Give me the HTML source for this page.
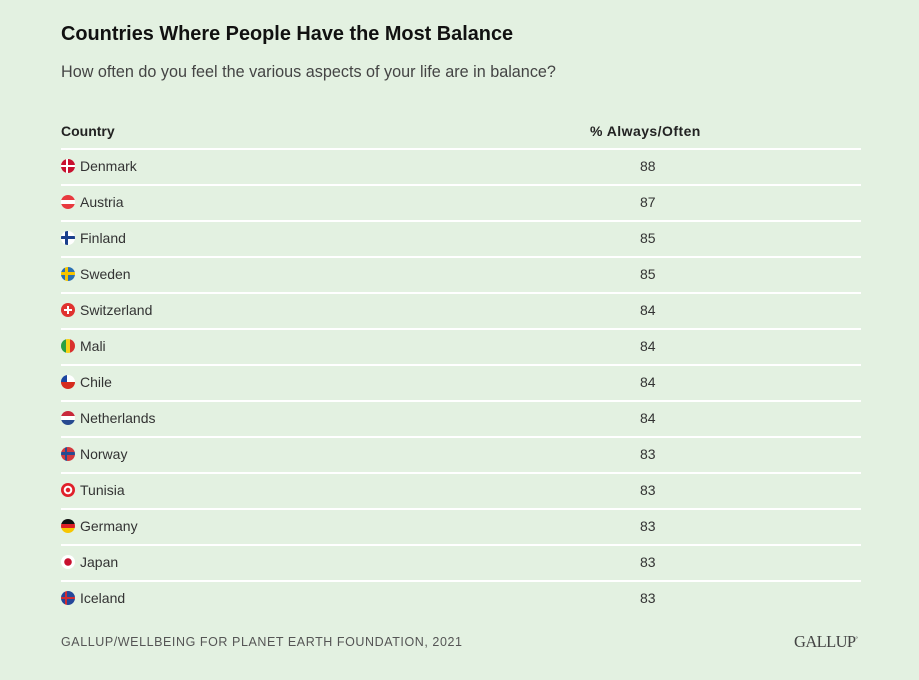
<!DOCTYPE html>
<html><head><meta charset="utf-8"><style>
body{margin:0;width:919px;height:680px;background:#e3f1e1;font-family:"Liberation Sans",sans-serif;position:relative;overflow:hidden;color:#333}
.a{position:absolute;white-space:nowrap}
.t{left:61px;top:23px;font-size:19.9px;font-weight:bold;color:#111}
.s{left:61px;top:63px;font-size:16.2px;color:#444}
.h{top:123px;font-size:14px;font-weight:bold;color:#222}
.line{position:absolute;left:61px;width:800px;height:2px;background:#fff}
.r{position:absolute;left:61px;width:800px;height:36px;font-size:14px;color:#333}
.r .n{position:absolute;left:19px;top:10px}
.r .v{position:absolute;left:579px;top:10px}
.f{position:absolute;left:0;top:11px;width:14px;height:14px;border-radius:50%;overflow:hidden}
.foot{left:61px;top:635px;font-size:12.5px;letter-spacing:0.57px;color:#555}
.g{left:794px;top:632px;font-family:"Liberation Serif",serif;font-size:16.5px;color:#444;letter-spacing:-0.6px}
</style></head><body>
<div class="a t">Countries Where People Have the Most Balance</div>
<div class="a s">How often do you feel the various aspects of your life are in balance?</div>
<div class="a h" style="left:61px">Country</div>
<div class="a h" style="left:590px;font-size:14px;letter-spacing:0.45px">% Always/Often</div>
<div class="line" style="top:148px"></div>
<div class="r" style="top:148px"><div class="f" style="background:linear-gradient(90deg,transparent 5px,#fff 5px,#fff 7px,transparent 7px),linear-gradient(#c8102e 6px,#fff 6px,#fff 8px,#c8102e 8px)"></div><span class="n">Denmark</span><span class="v">88</span></div>
<div class="line" style="top:184px"></div>
<div class="r" style="top:184px"><div class="f" style="background:linear-gradient(#e8393f 5px,#fff 5px,#fff 9px,#e8393f 9px)"></div><span class="n">Austria</span><span class="v">87</span></div>
<div class="line" style="top:220px"></div>
<div class="r" style="top:220px"><div class="f" style="background:linear-gradient(90deg,transparent 4px,#1a3f8c 4px,#1a3f8c 7px,transparent 7px),linear-gradient(#fff 5px,#1a3f8c 5px,#1a3f8c 8px,#fff 8px)"></div><span class="n">Finland</span><span class="v">85</span></div>
<div class="line" style="top:256px"></div>
<div class="r" style="top:256px"><div class="f" style="background:linear-gradient(90deg,transparent 4px,#f6c400 4px,#f6c400 7px,transparent 7px),linear-gradient(#2a6fb3 5px,#f6c400 5px,#f6c400 8px,#2a6fb3 8px)"></div><span class="n">Sweden</span><span class="v">85</span></div>
<div class="line" style="top:292px"></div>
<div class="r" style="top:292px"><div class="f" style="background:linear-gradient(90deg,transparent 6px,#fff 6px,#fff 8px,transparent 8px) 0 3px/14px 8px no-repeat,linear-gradient(transparent 6px,#fff 6px,#fff 8px,transparent 8px) 3px 0/8px 14px no-repeat,#e0322f"></div><span class="n">Switzerland</span><span class="v">84</span></div>
<div class="line" style="top:328px"></div>
<div class="r" style="top:328px"><div class="f" style="background:linear-gradient(90deg,#2aa043 5px,#f7d117 5px,#f7d117 9px,#d9302d 9px)"></div><span class="n">Mali</span><span class="v">84</span></div>
<div class="line" style="top:364px"></div>
<div class="r" style="top:364px"><div class="f" style="background:linear-gradient(90deg,#1a45a0 6px,transparent 6px) 0 0/14px 7px no-repeat,linear-gradient(#fff 7px,#d52b1e 7px)"></div><span class="n">Chile</span><span class="v">84</span></div>
<div class="line" style="top:400px"></div>
<div class="r" style="top:400px"><div class="f" style="background:linear-gradient(#c8283a 5px,#fff 5px,#fff 9px,#274a90 9px)"></div><span class="n">Netherlands</span><span class="v">84</span></div>
<div class="line" style="top:436px"></div>
<div class="r" style="top:436px"><div class="f" style="background:linear-gradient(90deg,transparent 4px,#274a90 4px,#274a90 6px,transparent 6px),linear-gradient(#d23a3f 5px,#274a90 5px,#274a90 8px,#d23a3f 8px)"></div><span class="n">Norway</span><span class="v">83</span></div>
<div class="line" style="top:472px"></div>
<div class="r" style="top:472px"><div class="f" style="background:radial-gradient(circle,#e0202a 2px,#fff 2.5px,#fff 4px,#e0202a 4.5px)"></div><span class="n">Tunisia</span><span class="v">83</span></div>
<div class="line" style="top:508px"></div>
<div class="r" style="top:508px"><div class="f" style="background:linear-gradient(#111 5px,#dd1f26 5px,#dd1f26 9px,#f7c600 9px)"></div><span class="n">Germany</span><span class="v">83</span></div>
<div class="line" style="top:544px"></div>
<div class="r" style="top:544px"><div class="f" style="background:radial-gradient(circle,#c8102e 3.5px,#fff 4px)"></div><span class="n">Japan</span><span class="v">83</span></div>
<div class="line" style="top:580px"></div>
<div class="r" style="top:580px"><div class="f" style="background:linear-gradient(90deg,transparent 4px,#d12b32 4px,#d12b32 6px,transparent 6px),linear-gradient(#25479a 6px,#d12b32 6px,#d12b32 8px,#25479a 8px)"></div><span class="n">Iceland</span><span class="v">83</span></div>
<div class="a foot">GALLUP/WELLBEING FOR PLANET EARTH FOUNDATION, 2021</div>
<div class="a g">GALLUP<sup style="font-size:6px">°</sup></div>
</body></html>
